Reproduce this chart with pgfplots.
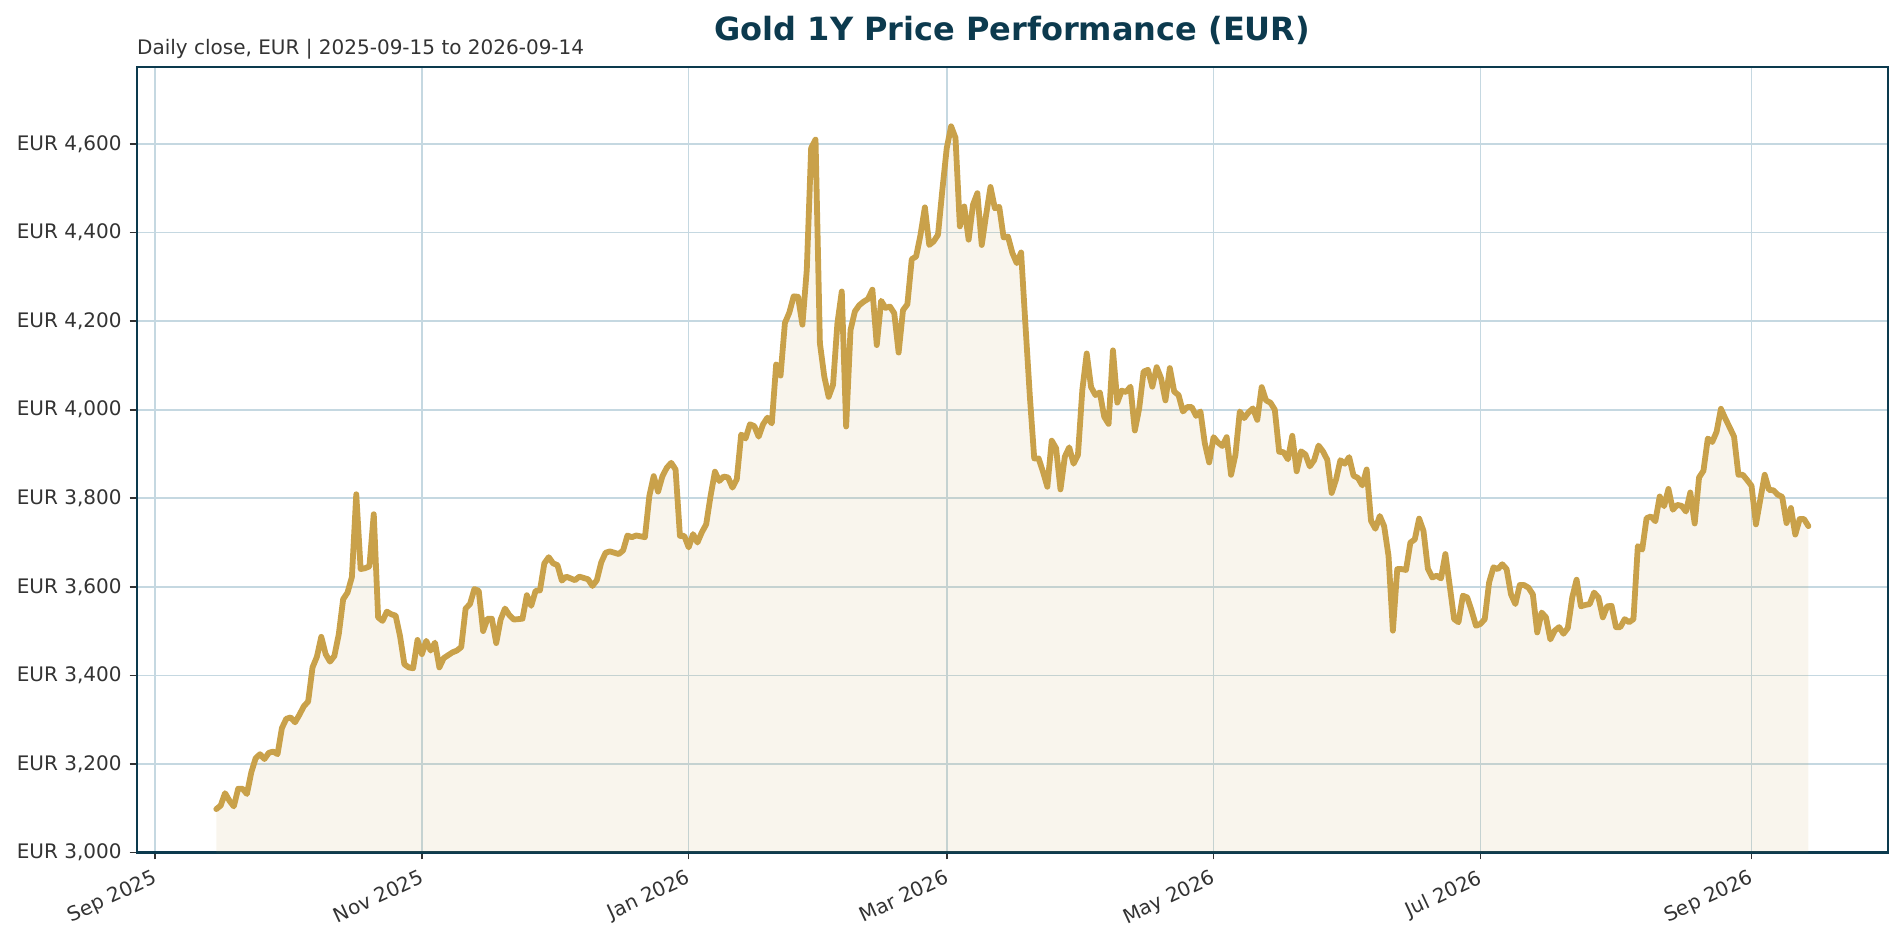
\documentclass[border=0pt]{standalone}
\usepackage{fontspec}
\setmainfont{DejaVu Sans}
\usepackage{pgfplots}
\pgfplotsset{compat=1.18}
\usepackage{pgfplotstable}

\definecolor{gold}{RGB}{201,161,74}
\definecolor{navy}{RGB}{12,58,78}
\definecolor{gridc}{RGB}{197,216,225}
\definecolor{txt}{RGB}{51,51,51}

% day = days since 2025-09-01, close in EUR
\pgfplotstableread[row sep=\\]{
day close\\
14 3098\\ 15 3106\\ 16 3134\\ 17 3117\\ 18 3104\\ 19 3144\\ 20 3144\\ 21 3132\\
22 3181\\ 23 3213\\ 24 3222\\ 25 3211\\ 26 3225\\ 27 3228\\ 28 3222\\ 29 3281\\
30 3302\\ 31 3305\\ 32 3294\\ 33 3311\\ 34 3330\\ 35 3341\\ 36 3418\\ 37 3442\\
38 3487\\ 39 3448\\ 40 3431\\ 41 3444\\ 42 3493\\ 43 3572\\ 44 3587\\ 45 3622\\
46 3809\\ 47 3640\\ 48 3642\\ 49 3646\\ 50 3764\\ 51 3531\\ 52 3523\\ 53 3544\\
54 3538\\ 55 3535\\ 56 3489\\ 57 3425\\ 58 3418\\ 59 3416\\ 60 3480\\ 61 3448\\
62 3478\\ 63 3456\\ 64 3474\\ 65 3418\\ 66 3439\\ 68 3452\\ 69 3456\\ 70 3464\\
71 3551\\ 72 3561\\ 73 3595\\ 74 3591\\ 75 3500\\ 76 3528\\ 77 3528\\ 78 3473\\
79 3526\\ 80 3551\\ 81 3536\\ 82 3526\\ 84 3528\\ 85 3581\\ 86 3557\\ 87 3591\\
88 3592\\ 89 3653\\ 90 3667\\ 91 3653\\ 92 3649\\ 93 3614\\ 94 3623\\ 95 3619\\
96 3615\\ 97 3623\\ 99 3617\\ 100 3602\\ 101 3615\\ 102 3655\\ 103 3677\\ 104 3680\\
106 3674\\ 107 3682\\ 108 3716\\ 109 3712\\ 110 3716\\ 112 3712\\ 113 3805\\ 114 3850\\
115 3815\\ 116 3850\\ 117 3869\\ 118 3880\\ 119 3865\\ 120 3715\\ 121 3715\\ 122 3689\\
123 3719\\ 124 3700\\ 125 3723\\ 126 3741\\ 127 3805\\ 128 3860\\ 129 3839\\ 130 3849\\
131 3847\\ 132 3824\\ 133 3843\\ 134 3944\\ 135 3935\\ 136 3967\\ 137 3963\\ 138 3939\\
139 3967\\ 140 3982\\ 141 3969\\ 142 4102\\ 143 4077\\ 144 4196\\ 145 4219\\ 146 4256\\
147 4255\\ 148 4192\\ 149 4316\\ 150 4591\\ 151 4610\\ 152 4150\\ 153 4075\\ 154 4029\\
155 4056\\ 156 4195\\ 157 4267\\ 158 3962\\ 159 4180\\ 160 4222\\ 161 4236\\ 162 4244\\
163 4250\\ 164 4271\\ 165 4146\\ 166 4246\\ 167 4230\\ 168 4233\\ 169 4218\\ 170 4129\\
171 4225\\ 172 4238\\ 173 4340\\ 174 4346\\ 175 4395\\ 176 4457\\ 177 4372\\ 178 4380\\
179 4395\\ 180 4497\\ 181 4591\\ 182 4640\\ 183 4614\\ 184 4414\\ 185 4459\\ 186 4384\\
187 4463\\ 188 4489\\ 189 4372\\ 190 4440\\ 191 4503\\ 192 4455\\ 193 4458\\ 194 4389\\
195 4391\\ 196 4354\\ 197 4331\\ 198 4355\\ 199 4190\\ 200 4030\\ 201 3890\\ 202 3890\\
203 3860\\ 204 3826\\ 205 3930\\ 206 3913\\ 207 3820\\ 208 3894\\ 209 3915\\ 210 3878\\
211 3898\\ 212 4045\\ 213 4127\\ 214 4051\\ 215 4033\\ 216 4039\\ 217 3984\\ 218 3968\\
219 4134\\ 220 4016\\ 221 4043\\ 222 4040\\ 223 4052\\ 224 3953\\ 225 4003\\ 226 4086\\
227 4090\\ 228 4052\\ 229 4096\\ 230 4071\\ 231 4021\\ 232 4094\\ 233 4041\\ 234 4033\\
235 3996\\ 236 4006\\ 237 4006\\ 238 3986\\ 239 3996\\ 240 3924\\ 241 3881\\ 242 3938\\
243 3926\\ 244 3918\\ 245 3938\\ 246 3853\\ 247 3898\\ 248 3996\\ 249 3981\\ 250 3994\\
251 4003\\ 252 3977\\ 253 4051\\ 254 4021\\ 255 4016\\ 256 4000\\ 257 3905\\ 258 3904\\
259 3888\\ 260 3941\\ 261 3861\\ 262 3906\\ 263 3899\\ 264 3872\\ 265 3886\\ 266 3919\\
267 3906\\ 268 3887\\ 269 3812\\ 270 3842\\ 271 3886\\ 272 3878\\ 273 3893\\ 274 3851\\
275 3846\\ 276 3829\\ 277 3865\\ 278 3749\\ 279 3731\\ 280 3760\\ 281 3737\\ 282 3670\\
283 3501\\ 284 3640\\ 285 3640\\ 286 3638\\ 287 3700\\ 288 3707\\ 289 3754\\ 290 3726\\
291 3641\\ 292 3621\\ 293 3625\\ 294 3619\\ 295 3674\\ 296 3602\\ 297 3527\\ 298 3520\\
299 3580\\ 300 3576\\ 301 3546\\ 302 3512\\ 303 3516\\ 304 3527\\ 305 3610\\ 306 3644\\
307 3640\\ 308 3651\\ 309 3640\\ 310 3583\\ 311 3561\\ 312 3604\\ 313 3604\\ 314 3598\\
315 3583\\ 316 3497\\ 317 3542\\ 318 3531\\ 319 3481\\ 320 3501\\ 321 3509\\ 322 3494\\
323 3507\\ 324 3576\\ 325 3616\\ 326 3556\\ 327 3559\\ 328 3561\\ 329 3587\\ 330 3576\\
331 3531\\ 332 3556\\ 333 3557\\ 334 3509\\ 335 3509\\ 336 3527\\ 337 3520\\ 338 3527\\
339 3692\\ 340 3684\\ 341 3755\\ 342 3759\\ 343 3748\\ 344 3804\\ 345 3782\\ 346 3821\\
347 3774\\ 348 3785\\ 349 3783\\ 350 3770\\ 351 3813\\ 352 3743\\ 353 3847\\ 354 3862\\
355 3935\\ 356 3927\\ 357 3950\\ 358 4002\\ 359 3980\\ 360 3960\\ 361 3939\\ 362 3853\\
363 3853\\ 364 3841\\ 365 3828\\ 366 3741\\ 367 3797\\ 368 3853\\ 369 3819\\ 370 3818\\
371 3808\\ 372 3803\\ 373 3744\\ 374 3778\\ 375 3718\\ 376 3753\\ 377 3753\\ 378 3737\\
}\goldtable

\begin{document}
\begin{tikzpicture}
\begin{axis}[
  name=ax,
  at={(0,0)}, anchor=south west,
  scale only axis,
  width=875.65pt, height=392.75pt,
  xmin=-4.2, xmax=396.2,
  ymin=3000, ymax=4774,
  axis line style={navy, line width=1.1pt},
  xtick={0,61,122,181,242,303,365},
  xticklabels={Sep 2025,Nov 2025,Jan 2026,Mar 2026,May 2026,Jul 2026,Sep 2026},
  ytick={3000,3200,3400,3600,3800,4000,4200,4400,4600},
  yticklabels={EUR 3{,}000,EUR 3{,}200,EUR 3{,}400,EUR 3{,}600,EUR 3{,}800,EUR 4{,}000,EUR 4{,}200,EUR 4{,}400,EUR 4{,}600},
  xtick pos=bottom, ytick pos=left,
  tick align=outside,
  major tick length=3.5pt,
  tick style={txt, line width=0.8pt},
  xmajorgrids, ymajorgrids,
  major grid style={gridc, line width=0.8pt},
  ticklabel style={font=\fontsize{10}{12}\selectfont, text=txt},
  yticklabel style={xshift=-0.5pt},
  xticklabel style={rotate=25, anchor=north east},
  /pgf/number format/assume math mode=true,
]
\addplot[draw=none, fill=gold, fill opacity=0.1] table[x=day, y=close] {\goldtable} \closedcycle;
\addplot[gold, line width=2.9pt, line join=round, line cap=round] table[x=day, y=close] {\goldtable};
\end{axis}
\node[anchor=base, text=navy, font=\fontsize{16}{19}\selectfont\bfseries] at ([yshift=13pt]ax.north) {Gold 1Y Price Performance (EUR)};
\node[anchor=base west, inner sep=0pt, text=txt, font=\fontsize{10}{12}\selectfont] at ([yshift=6pt]ax.north west) {Daily close, EUR | 2025-09-15 to 2026-09-14};
\pgfresetboundingbox
\path ([shift={(-68.35pt,-45.75pt)}]ax.south west) rectangle ([shift={(8pt,33.5pt)}]ax.north east);
\end{tikzpicture}
\end{document}
